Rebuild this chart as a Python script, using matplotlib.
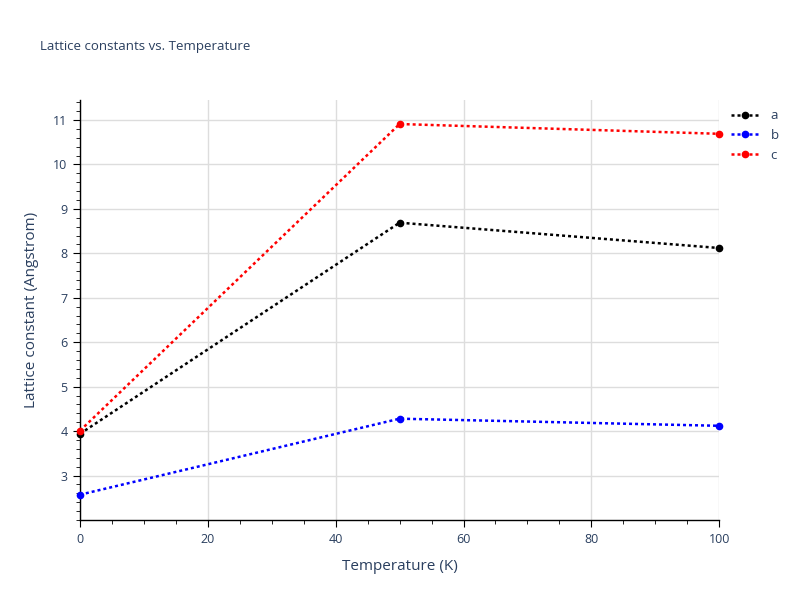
import matplotlib
matplotlib.use("Agg")
import matplotlib.pyplot as plt
from matplotlib.ticker import MultipleLocator

plt.rcParams["font.family"] = ["Open Sans", "DejaVu Sans"]

TEXT = "#2a3f5f"

temperature = [0, 50, 100]
a_vals = [3.94, 8.69, 8.12]
b_vals = [2.57, 4.28, 4.12]
c_vals = [4.01, 10.91, 10.69]
series = [("a", a_vals, "black"), ("b", b_vals, "blue"), ("c", c_vals, "red")]

fig = plt.figure(figsize=(8, 6), dpi=100)
ax = fig.add_axes([0.1, 0.1333, 0.799, 0.7])

for name, vals, col in series:
    ax.plot(temperature, vals, linestyle=(0, (1.2, 1.2)), linewidth=1.8, color=col,
            marker="o", markersize=4.5, label=name, clip_on=False, zorder=3)

ax.set_xlim(0, 100)
ax.set_ylim(2.0, 11.45)
ax.xaxis.set_major_locator(MultipleLocator(20))
ax.xaxis.set_minor_locator(MultipleLocator(5))
ax.yaxis.set_major_locator(MultipleLocator(1))
ax.yaxis.set_minor_locator(MultipleLocator(0.2))
ax.set_yticks(range(3, 12))

ax.grid(True, which="major", color="#dddddd", linewidth=1)
ax.set_axisbelow(True)
for s in ["top", "right"]:
    ax.spines[s].set_visible(False)
for s in ["left", "bottom"]:
    ax.spines[s].set_color("black")
    ax.spines[s].set_linewidth(1)

ax.tick_params(which="major", direction="out", length=5, color="black", labelsize=9, labelcolor=TEXT, pad=4)
ax.tick_params(which="minor", direction="out", length=3, color="black")

ax.set_xlabel("Temperature (K)", fontsize=11, color=TEXT, labelpad=10)
ax.set_ylabel("Lattice constant (Angstrom)", fontsize=11, color=TEXT, labelpad=10)

fig.text(0.05, 0.923, "Lattice constants vs. Temperature", fontsize=9.5, color=TEXT, va="center")

leg = ax.legend(loc="upper left", bbox_to_anchor=(1.01, 0.99), frameon=False, fontsize=9.5,
                handlelength=2.2, labelspacing=0.5, borderaxespad=0)
for t in leg.get_texts():
    t.set_color(TEXT)

fig.savefig("out.png", dpi=100)
